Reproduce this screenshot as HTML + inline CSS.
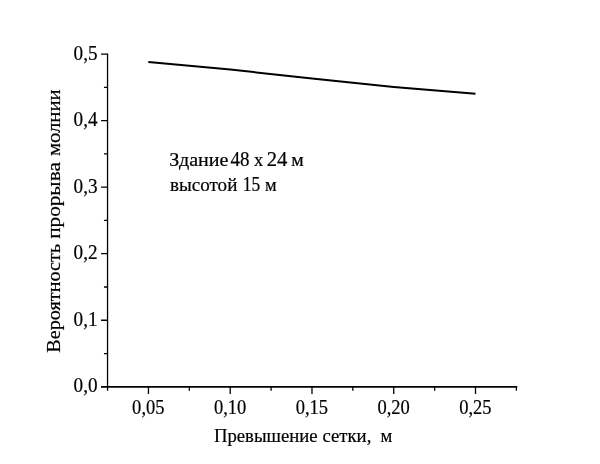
<!DOCTYPE html>
<html lang="ru">
<head>
<meta charset="utf-8">
<title>Вероятность прорыва молнии</title>
<style>
html,body{margin:0;padding:0;background:#fff;}
body{width:600px;height:464px;overflow:hidden;position:relative;font-family:"Liberation Serif",serif;color:#000;}
svg{position:absolute;left:0;top:0;display:block;}
text{font-family:"Liberation Serif",serif;font-size:20px;fill:#000;}
</style>
</head>
<body>
<svg width="600" height="464" viewBox="0 0 600 464">
<rect width="600" height="464" fill="#fff"/>
<g stroke="#000" stroke-width="1.75" fill="none">
<path stroke-width="1.3" d="M107.55 53.40V390.80"/>
<path d="M101.05 386.8H517.26"/>
<path stroke-width="1.3" d="M101.05 320.25H107.55M101.05 253.70H107.55M101.05 187.15H107.55M101.05 120.60H107.55M101.05 54.05H107.55"/>
<path stroke-width="1.3" d="M103.95 353.53H107.55M103.95 286.98H107.55M103.95 220.43H107.55M103.95 153.88H107.55M103.95 87.32H107.55"/>
<path stroke-width="1.3" d="M148.45 386.8V394.0M230.22 386.8V394.0M311.98 386.8V394.0M393.74 386.8V394.0M475.50 386.8V394.0"/>
<path stroke-width="1.3" d="M189.33 386.8V390.8M271.10 386.8V390.8M352.86 386.8V390.8M434.62 386.8V390.8M516.38 386.8V390.8"/>
</g>
<polyline points="148.3,62 230.3,69.6 312,78.4 393.7,87 475.5,93.8" fill="none" stroke="#000" stroke-width="2"/>
<text transform="translate(73.60,392.40) scale(0.9600,1.01)" stroke="#000" stroke-width="0.2">0,0</text>
<text transform="translate(73.60,325.85) scale(0.9600,1.01)" stroke="#000" stroke-width="0.2">0,1</text>
<text transform="translate(73.60,259.30) scale(0.9600,1.01)" stroke="#000" stroke-width="0.2">0,2</text>
<text transform="translate(73.60,192.75) scale(0.9600,1.01)" stroke="#000" stroke-width="0.2">0,3</text>
<text transform="translate(73.60,126.20) scale(0.9600,1.01)" stroke="#000" stroke-width="0.2">0,4</text>
<text transform="translate(73.60,59.65) scale(0.9600,1.01)" stroke="#000" stroke-width="0.2">0,5</text>
<text transform="translate(132.12,414.30) scale(0.9274,1.01)" stroke="#000" stroke-width="0.2">0,05</text>
<text transform="translate(213.89,414.30) scale(0.9274,1.01)" stroke="#000" stroke-width="0.2">0,10</text>
<text transform="translate(295.65,414.30) scale(0.9274,1.01)" stroke="#000" stroke-width="0.2">0,15</text>
<text transform="translate(377.41,414.30) scale(0.9274,1.01)" stroke="#000" stroke-width="0.2">0,20</text>
<text transform="translate(459.17,414.30) scale(0.9274,1.01)" stroke="#000" stroke-width="0.2">0,25</text>
<text transform="translate(213.91,441.60) scale(0.9363,0.97)" stroke="#000" stroke-width="0.2">Превышение</text>
<text transform="translate(322.41,441.60) scale(0.9387,0.97)" stroke="#000" stroke-width="0.2">сетки,</text>
<text transform="translate(380.41,441.60) scale(0.9347,0.97)" stroke="#000" stroke-width="0.2">м</text>
<text transform="translate(60.00,352.82) rotate(-90) scale(1.0119,0.96)" stroke="#000" stroke-width="0.2">Вероятность</text>
<text transform="translate(60.00,238.83) rotate(-90) scale(1.0619,0.96)" stroke="#000" stroke-width="0.2">прорыва</text>
<text transform="translate(60.00,156.12) rotate(-90) scale(1.0348,0.96)" stroke="#000" stroke-width="0.2">молнии</text>
<text transform="translate(169.36,166.00) scale(1.0038,0.97)" stroke="#000" stroke-width="0.2">Здание</text>
<text transform="translate(230.40,166.00) scale(0.9495,1.0)" stroke="#000" stroke-width="0.2">48</text>
<text transform="translate(254.00,166.00) scale(0.9200,0.97)" stroke="#000" stroke-width="0.2">х</text>
<text transform="translate(266.65,166.00) scale(1.0334,1.0)" stroke="#000" stroke-width="0.2">24</text>
<text transform="translate(291.29,166.00) scale(0.9853,0.97)" stroke="#000" stroke-width="0.2">м</text>
<text transform="translate(170.00,190.50) scale(0.9533,0.97)" stroke="#000" stroke-width="0.2">высотой</text>
<text transform="translate(242.84,190.50) scale(0.8702,1.0)" stroke="#000" stroke-width="0.2">15</text>
<text transform="translate(265.11,190.50) scale(0.9179,0.97)" stroke="#000" stroke-width="0.2">м</text>
</svg>
</body>
</html>
